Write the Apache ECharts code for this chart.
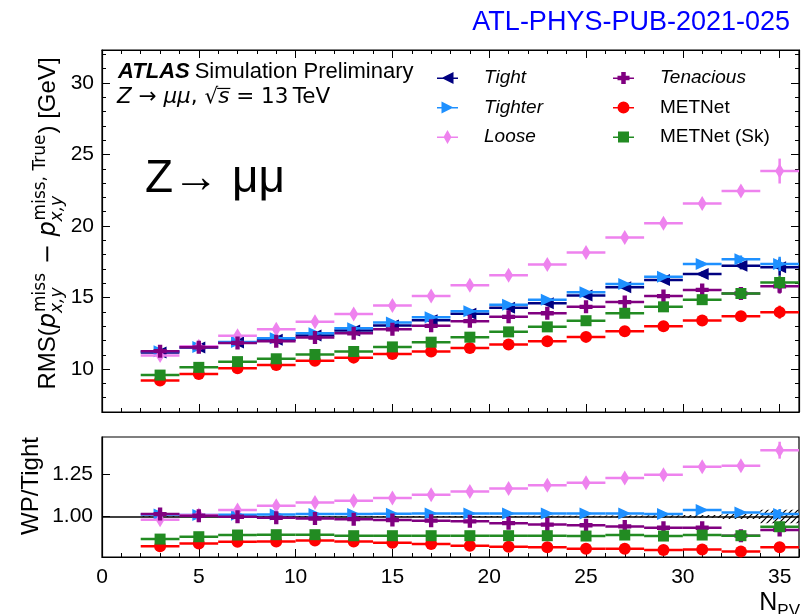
<!DOCTYPE html>
<html>
<head>
<meta charset="utf-8">
<script src="https://cdn.jsdelivr.net/npm/echarts@6/dist/echarts.min.js"></script>
<style>
  html, body { margin: 0; padding: 0; background: #fff; }
  #chart { width: 808px; height: 614px; }
</style>
</head>
<body>
<div id="chart"></div>
<script>
// ---- data -------------------------------------------------------------
// N_PV bin centres; bins are 2 wide, from 2 to 36
const npv = [3, 5, 7, 9, 11, 13, 15, 17, 19, 21, 23, 25, 27, 29, 31, 33, 35];
const binHalfWidth = 1;

const seriesNames = ['Tight', 'Tighter', 'Loose', 'Tenacious', 'METNet', 'METNet (Sk)'];

// RMS(p_miss - p_miss,True) [GeV]
const rmsTight     = [11.15, 11.5, 11.85, 12.05, 12.35, 12.7, 13.05, 13.42, 13.86, 14.28, 14.6, 15.14, 15.72, 16.23, 16.65, 17.23, 17.12];
const rmsTighter   = [11.25, 11.55, 11.9, 12.15, 12.5, 12.85, 13.25, 13.62, 14.05, 14.5, 14.85, 15.37, 15.95, 16.45, 17.35, 17.68, 17.35];
const rmsLoose     = [10.95, 11.59, 12.33, 12.78, 13.3, 13.85, 14.45, 15.1, 15.85, 16.55, 17.3, 18.15, 19.2, 20.2, 21.57, 22.45, 23.84];
const rmsTenacious = [11.25, 11.52, 11.83, 11.95, 12.2, 12.5, 12.78, 13.02, 13.35, 13.65, 13.9, 14.35, 14.68, 15.1, 15.53, 15.28, 15.78];
const rmsMetnet    = [9.2, 9.65, 10.05, 10.28, 10.58, 10.8, 11.05, 11.23, 11.48, 11.72, 11.95, 12.25, 12.65, 13.0, 13.4, 13.7, 13.98];
const rmsMetnetSk  = [9.58, 10.12, 10.52, 10.72, 11.02, 11.23, 11.55, 11.88, 12.23, 12.6, 12.95, 13.38, 13.9, 14.35, 14.85, 15.28, 16.05];

// statistical uncertainties [GeV]
const errTight     = [0.04, 0.04, 0.04, 0.04, 0.04, 0.05, 0.05, 0.05, 0.06, 0.07, 0.08, 0.09, 0.11, 0.13, 0.17, 0.26, 0.6];
const errTighter   = [0.04, 0.04, 0.04, 0.04, 0.04, 0.05, 0.05, 0.05, 0.06, 0.07, 0.08, 0.09, 0.11, 0.13, 0.17, 0.26, 0.5];
const errLoose     = [0.05, 0.05, 0.05, 0.05, 0.06, 0.06, 0.07, 0.07, 0.08, 0.09, 0.1, 0.12, 0.14, 0.17, 0.22, 0.33, 0.87];
const errTenacious = [0.04, 0.04, 0.04, 0.04, 0.04, 0.05, 0.05, 0.05, 0.06, 0.07, 0.08, 0.09, 0.11, 0.13, 0.17, 0.25, 0.5];
const errMetnet    = [0.03, 0.03, 0.03, 0.03, 0.04, 0.04, 0.04, 0.05, 0.05, 0.06, 0.07, 0.08, 0.1, 0.12, 0.15, 0.22, 0.45];
const errMetnetSk  = [0.03, 0.03, 0.03, 0.03, 0.04, 0.04, 0.04, 0.05, 0.05, 0.06, 0.07, 0.08, 0.1, 0.12, 0.15, 0.22, 0.45];

// ratio to the Tight working point
const ratioTighter   = [1.012, 1.008, 1.01, 1.012, 1.014, 1.015, 1.016, 1.018, 1.018, 1.017, 1.018, 1.017, 1.018, 1.015, 1.038, 1.024, 1.014];
const ratioLoose     = [0.98, 1.008, 1.038, 1.063, 1.083, 1.093, 1.109, 1.128, 1.148, 1.166, 1.185, 1.2, 1.227, 1.246, 1.294, 1.3, 1.392];
const ratioTenacious = [1.014, 1.004, 0.998, 0.992, 0.988, 0.984, 0.979, 0.975, 0.971, 0.96, 0.952, 0.948, 0.941, 0.933, 0.933, 0.886, 0.92];
const ratioMetnet    = [0.823, 0.84, 0.85, 0.852, 0.857, 0.852, 0.845, 0.837, 0.827, 0.821, 0.817, 0.809, 0.809, 0.801, 0.805, 0.793, 0.817];
const ratioMetnetSk  = [0.866, 0.88, 0.89, 0.892, 0.892, 0.886, 0.886, 0.886, 0.886, 0.886, 0.886, 0.884, 0.89, 0.884, 0.89, 0.886, 0.939];

const errRatioTighter   = [0.003, 0.003, 0.003, 0.003, 0.003, 0.003, 0.003, 0.004, 0.004, 0.005, 0.005, 0.006, 0.007, 0.008, 0.01, 0.015, 0.03];
const errRatioLoose     = [0.004, 0.004, 0.004, 0.004, 0.005, 0.005, 0.005, 0.006, 0.006, 0.007, 0.007, 0.008, 0.009, 0.011, 0.014, 0.02, 0.05];
const errRatioTenacious = [0.003, 0.003, 0.003, 0.003, 0.003, 0.003, 0.003, 0.004, 0.004, 0.005, 0.005, 0.006, 0.007, 0.008, 0.01, 0.012, 0.028];
const errRatioMetnet    = [0.003, 0.003, 0.003, 0.003, 0.003, 0.003, 0.003, 0.004, 0.004, 0.005, 0.005, 0.006, 0.007, 0.008, 0.01, 0.014, 0.025];
const errRatioMetnetSk  = [0.003, 0.003, 0.003, 0.003, 0.003, 0.003, 0.003, 0.004, 0.004, 0.005, 0.005, 0.006, 0.007, 0.008, 0.01, 0.014, 0.025];

// Tight uncertainty band around the unit ratio
const tightRatio = 1;
const errRatioTight = [0.002, 0.002, 0.002, 0.002, 0.002, 0.002, 0.002, 0.003, 0.003, 0.003, 0.004, 0.004, 0.005, 0.007, 0.008, 0.015, 0.04];

// ---- styles -----------------------------------------------------------
const colors = ['#000080', '#1e90ff', '#ee82ee', '#800080', '#ff0000', '#228b22'];
const plusPath = 'path://M1,0 L2,0 L2,1 L3,1 L3,2 L2,2 L2,3 L1,3 L1,2 L0,2 L0,1 L1,1 Z';
const markers = [
  { symbol: 'triangle', size: [12, 13], rotate: 90 },
  { symbol: 'triangle', size: [12, 13], rotate: -90 },
  { symbol: 'diamond', size: [9, 15], rotate: 0 },
  { symbol: plusPath, size: 13, rotate: 0 },
  { symbol: 'circle', size: 12, rotate: 0 },
  { symbol: 'rect', size: 11, rotate: 0 }
];
// legend icons: error-bar line with the marker on top
const barPath = 'M0,15 L42,15 L42,18 L0,18 Z ';
const legendIcons = [
  'path://' + barPath + 'M9,16 L33,4 L33,28 Z',
  'path://' + barPath + 'M33,16 L9,28 L9,4 Z',
  'path://' + barPath + 'M21,2 L29,16 L21,30 L13,16 Z',
  'path://' + barPath + 'M16.5,4 L25.5,4 L25.5,11.5 L33,11.5 L33,20.5 L25.5,20.5 L25.5,28 L16.5,28 L16.5,20.5 L9,20.5 L9,11.5 L16.5,11.5 Z',
  'path://' + barPath + 'M9,16 A12,12 0 1,1 33,16 A12,12 0 1,1 9,16 Z',
  'path://' + barPath + 'M10,5 L32,5 L32,27 L10,27 Z'
];

const SANS = '"Liberation Sans", Arial, sans-serif';
const MATH = '"DejaVu Sans", sans-serif';

function errorBarRenderer(color) {
  return function (params, api) {
    const x = api.value(0), y = api.value(1), e = api.value(2);
    const l = api.coord([x - binHalfWidth, y]);
    const r = api.coord([x + binHalfWidth, y]);
    const t = api.coord([x, y + e]);
    const b = api.coord([x, y - e]);
    const st = { stroke: color, lineWidth: 2.5 };
    return {
      type: 'group',
      children: [
        { type: 'line', shape: { x1: l[0], y1: l[1], x2: r[0], y2: r[1] }, style: st },
        { type: 'line', shape: { x1: t[0], y1: t[1], x2: b[0], y2: b[1] }, style: st }
      ]
    };
  };
}

const series = [];
function addPoints(idx, values, errors, xAxisIndex, yAxisIndex) {
  const name = seriesNames[idx], color = colors[idx], m = markers[idx];
  series.push({
    type: 'custom', name, xAxisIndex, yAxisIndex, silent: true, clip: true,
    z: 2 + idx * 2,
    renderItem: errorBarRenderer(color),
    encode: { x: 0, y: 1 },
    data: npv.map((x, i) => [x, values[i], errors[i]])
  });
  series.push({
    type: 'scatter', name, xAxisIndex, yAxisIndex, silent: true,
    z: 3 + idx * 2,
    symbol: m.symbol, symbolSize: m.size, symbolRotate: m.rotate,
    itemStyle: { color, opacity: 1 },
    emphasis: { disabled: true },
    data: npv.map((x, i) => [x, values[i]])
  });
}

// upper panel
addPoints(0, rmsTight, errTight, 0, 0);
addPoints(1, rmsTighter, errTighter, 0, 0);
addPoints(2, rmsLoose, errLoose, 0, 0);
addPoints(3, rmsTenacious, errTenacious, 0, 0);
addPoints(4, rmsMetnet, errMetnet, 0, 0);
addPoints(5, rmsMetnetSk, errMetnetSk, 0, 0);

// hatched Tight band in the ratio panel
function hatchCanvas() {
  const c = document.createElement('canvas');
  c.width = 6; c.height = 6;
  const g = c.getContext('2d');
  g.strokeStyle = '#000';
  g.lineWidth = 1.2;
  g.beginPath();
  g.moveTo(0, 6); g.lineTo(6, 0);
  g.moveTo(-1, 1); g.lineTo(1, -1);
  g.moveTo(5, 7); g.lineTo(7, 5);
  g.stroke();
  return c;
}
const hatch = { image: hatchCanvas(), repeat: 'repeat' };
series.push({
  type: 'custom', name: 'Tight', xAxisIndex: 2, yAxisIndex: 2, silent: true, clip: true, z: 1,
  encode: { x: 0, y: 1 },
  data: npv.map((x, i) => [x, tightRatio, errRatioTight[i]]),
  renderItem: function (params, api) {
    const x = api.value(0), c = api.value(1), e = api.value(2);
    const p0 = api.coord([x - binHalfWidth, c + e]);
    const p1 = api.coord([x + binHalfWidth, c - e]);
    return {
      type: 'rect',
      shape: { x: p0[0], y: p0[1], width: p1[0] - p0[0], height: p1[1] - p0[1] },
      style: { fill: hatch, stroke: null }
    };
  },
  markLine: {
    silent: true, symbol: 'none', z: 1,
    label: { show: false },
    lineStyle: { color: '#000', width: 1.5, type: 'solid' },
    data: [{ yAxis: tightRatio }]
  }
});

// lower panel (ratios)
addPoints(1, ratioTighter, errRatioTighter, 2, 2);
addPoints(2, ratioLoose, errRatioLoose, 2, 2);
addPoints(3, ratioTenacious, errRatioTenacious, 2, 2);
addPoints(4, ratioMetnet, errRatioMetnet, 2, 2);
addPoints(5, ratioMetnetSk, errRatioMetnetSk, 2, 2);

// ---- axes -------------------------------------------------------------
const black = { color: '#000', width: 1.2 };
function frameAxis(extra) {
  return Object.assign({
    type: 'value',
    splitLine: { show: false },
    axisLine: { show: true, onZero: false, lineStyle: black },
    axisTick: { show: true, inside: true, length: 8, lineStyle: { color: '#000', width: 1 } },
    minorTick: { show: true, splitNumber: 5, length: 4, lineStyle: { color: '#000', width: 1 } },
    axisLabel: { show: false }
  }, extra);
}
const labelStyle = { show: true, color: '#000', fontFamily: SANS, fontSize: 21 };

const xAxes = [
  frameAxis({ gridIndex: 0, position: 'bottom', min: 0, max: 36, interval: 5 }),
  frameAxis({ gridIndex: 0, position: 'top', min: 0, max: 36, interval: 5 }),
  frameAxis({ gridIndex: 1, position: 'bottom', min: 0, max: 36, interval: 5,
    axisLabel: Object.assign({ margin: 10, showMaxLabel: false }, labelStyle) })
];
const yAxes = [
  frameAxis({ gridIndex: 0, position: 'left', min: 7, max: 32.3, minInterval: 5, maxInterval: 5,
    axisLabel: Object.assign({ margin: 8, showMinLabel: false, showMaxLabel: false }, labelStyle) }),
  frameAxis({ gridIndex: 0, position: 'right', min: 7, max: 32.3, minInterval: 5, maxInterval: 5 }),
  frameAxis({ gridIndex: 1, position: 'left', min: 0.76, max: 1.47, minInterval: 0.25, maxInterval: 0.25,
    minorTick: { show: false },
    axisLabel: Object.assign({ margin: 9, showMinLabel: false, showMaxLabel: false,
      formatter: v => v.toFixed(2) }, labelStyle) })
];

// ---- legend -----------------------------------------------------------
function legendBlock(indices, left) {
  return {
    orient: 'vertical', left, top: 68, padding: 0,
    itemWidth: 21, itemHeight: 14, itemGap: 9.5,
    selectedMode: false,
    textStyle: { color: '#000', fontFamily: SANS, fontSize: 19, lineHeight: 20, padding: [0, 0, 0, 21] },
    data: indices.map(i => ({
      name: seriesNames[i],
      icon: legendIcons[i],
      itemStyle: { color: colors[i] },
      textStyle: { fontStyle: i < 4 ? 'italic' : 'normal' }
    }))
  };
}

// ---- texts ------------------------------------------------------------
const mctx = document.createElement('canvas').getContext('2d');
function textWidth(text, font) { mctx.font = font; return mctx.measureText(text).width; }
// text element whose alphabetic baseline sits at y
function baseText(text, x, y, font, size, fill, align) {
  return {
    type: 'text', x, y: y - 0.35 * size, silent: true,
    style: { text, font, fill: fill || '#000', textAlign: align || 'left', textVerticalAlign: 'middle',
      align: align || 'left', verticalAlign: 'middle' }
  };
}

const graphics = [];
// report number
graphics.push(baseText('ATL-PHYS-PUB-2021-025', 790, 32, '27px ' + SANS, 27, '#0000ff', 'right'));

// ATLAS label
const atlasFont = 'italic bold 22px ' + SANS;
graphics.push(baseText('ATLAS', 118, 80, atlasFont, 22));
graphics.push(baseText('Simulation Preliminary', 118 + textWidth('ATLAS', atlasFont) + 5, 80, '22px ' + SANS, 22));

// process / energy line
(function () {
  const fs = 21.5, up = fs + 'px ' + MATH, it = 'italic ' + fs + 'px ' + MATH;
  const parts = [['Z', it], [' \u2192 ', up], ['\u03bc\u03bc', it], [', ', up], ['\u221a', up], ['s', it], [' = 13\u2009TeV', up]];
  let x = 117;
  const base = 105;
  let sqrtEnd = 0, sEnd = 0;
  parts.forEach(([t, f]) => {
    graphics.push(baseText(t, x, base, f, fs));
    x += textWidth(t, f);
    if (t === '\u221a') sqrtEnd = x;
    if (t === 's') sEnd = x;
  });
  graphics.push({ type: 'line', silent: true,
    shape: { x1: sqrtEnd - 1, y1: base - 0.77 * fs, x2: sEnd + 1, y2: base - 0.77 * fs },
    style: { stroke: '#000', lineWidth: 1.2 } });
})();

// large process label
graphics.push(baseText('Z\u2192 \u03bc\u03bc', 145, 195, '46px ' + SANS, 46));

// upper y-axis title, reading bottom to top
(function () {
  const F = 24, s = 17;
  const fMain = F + 'px ' + SANS, fMath = F + 'px ' + MATH, fIt = 'italic ' + F + 'px ' + MATH;
  const fSup = s + 'px ' + MATH, fSub = 'italic ' + s + 'px ' + MATH;
  const pieces = [
    { t: 'RMS(', f: fMain },
    { t: 'p', f: fIt },
    { sup: 'miss', sub: 'x,y' },
    { t: ' \u2212 ', f: fMath },
    { t: 'p', f: fIt },
    { sup: 'miss, True', sub: 'x,y' },
    { t: ') [GeV]', f: fMain }
  ];
  const children = [];
  let cx = 0;
  pieces.forEach(p => {
    if (p.t) {
      children.push({ type: 'text', x: cx, y: -0.35 * F,
        style: { text: p.t, font: p.f, fill: '#000', textAlign: 'left', textVerticalAlign: 'middle', align: 'left', verticalAlign: 'middle' } });
      cx += textWidth(p.t, p.f);
    } else {
      children.push({ type: 'text', x: cx + 1, y: -0.42 * F - 0.35 * s,
        style: { text: p.sup, font: fSup, fill: '#000', textAlign: 'left', textVerticalAlign: 'middle', align: 'left', verticalAlign: 'middle' } });
      children.push({ type: 'text', x: cx, y: 0.26 * F - 0.35 * s,
        style: { text: p.sub, font: fSub, fill: '#000', textAlign: 'left', textVerticalAlign: 'middle', align: 'left', verticalAlign: 'middle' } });
      cx += Math.max(textWidth(p.sup, fSup), textWidth(p.sub, fSub)) + 2;
    }
  });
  graphics.push({ type: 'group', x: 57, y: 223.5 + cx / 2, rotation: Math.PI / 2, silent: true, children });
})();

// lower y-axis title
graphics.push({
  type: 'text', x: 31.6, y: 486, rotation: Math.PI / 2, silent: true,
  style: { text: 'WP/Tight', font: '24px ' + SANS, fill: '#000', textAlign: 'center', textVerticalAlign: 'middle', align: 'center', verticalAlign: 'middle' }
});

// x-axis title N_PV
(function () {
  const fN = '25px ' + SANS, fS = '17px ' + SANS;
  const wN = textWidth('N', fN), wS = textWidth('PV', fS);
  const x0 = 800 - wN - wS;
  graphics.push(baseText('N', x0, 612, fN, 25));
  graphics.push(baseText('PV', x0 + wN, 617, fS, 17));
})();

// ---- chart ------------------------------------------------------------
const chart = echarts.init(document.getElementById('chart'), null, { renderer: 'canvas' });
chart.setOption({
  animation: false,
  backgroundColor: '#fff',
  grid: [
    { left: 102, top: 50, width: 697, height: 362, show: true, borderColor: '#000', borderWidth: 1.2, outerBoundsMode: 'none' },
    { left: 102, top: 437, width: 697, height: 120, show: true, borderColor: '#000', borderWidth: 1.2, outerBoundsMode: 'none' }
  ],
  xAxis: xAxes,
  yAxis: yAxes,
  legend: [legendBlock([0, 1, 2], 437), legendBlock([3, 4, 5], 613)],
  series,
  graphic: graphics
});
</script>
</body>
</html>
